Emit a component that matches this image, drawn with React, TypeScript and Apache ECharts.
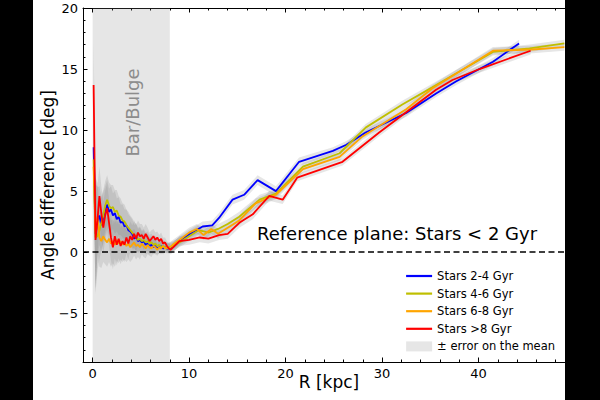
import React, { useEffect, useRef } from "react";
import * as echarts from "echarts";

const FONT = "DejaVu Sans";

// Radii of the inner (bar/bulge) profile samples, kpc
const innerR = [
  0.1, 0.3, 0.5, 0.7, 0.9, 1.1, 1.3, 1.5, 1.7, 1.9, 2.1, 2.3, 2.5, 2.7, 2.9, 3.1, 3.3, 3.5, 3.7, 3.9,
  4.1, 4.3, 4.5, 4.7, 4.9, 5.1, 5.3, 5.5, 5.7, 5.9, 6.1, 6.3, 6.5, 6.7, 6.9, 7.1, 7.3, 7.5, 7.7, 7.9,
];
// Error on the mean for the inner samples, deg
const innerErr = [
  3.5, 4.5, 2.8, 2.4, 2.2, 2.1, 2.0, 2.0, 1.9, 1.9, 1.8, 1.8, 1.7, 1.6, 1.5, 1.4, 1.4, 1.3, 1.3, 1.2,
  1.2, 1.1, 1.1, 1.0, 1.0, 0.9, 0.9, 0.8, 0.8, 0.7, 0.7, 0.6, 0.6, 0.5, 0.5, 0.5, 0.5, 0.4, 0.4, 0.4,
];

// Stars 2-4 Gyr
const blueInner = [
  8.6, 1.5, 2.5, 3.0, 2.2, 2.8, 3.4, 3.9, 3.3, 3.5, 3.0, 3.2, 2.7, 2.9, 2.4, 2.5, 2.1, 2.2, 1.8, 1.7,
  1.5, 1.1, 1.3, 0.9, 1.0, 0.8, 0.9, 0.6, 0.7, 0.5, 0.6, 0.4, 0.5, 0.3, 0.4, 0.5, 0.3, 0.4, 0.3, 0.3,
];
const blueOuterR = [8.3, 9.0, 10.1, 11.4, 12.4, 13.1, 14.5, 15.7, 17.1, 19.0, 21.4, 24.9, 26.3, 28.3, 32.5, 35.6, 37.7, 41.5, 44.2];
const blueOuter = [0.4, 0.9, 1.5, 2.1, 2.2, 2.8, 4.3, 4.7, 5.9, 5.0, 7.4, 8.3, 8.8, 9.8, 11.4, 13.0, 14.0, 15.6, 17.1];
const blueOuterErr = [0.4, 0.4, 0.4, 0.4, 0.4, 0.4, 0.4, 0.4, 0.4, 0.4, 0.35, 0.3, 0.3, 0.3, 0.3, 0.3, 0.3, 0.3, 0.3];

// Stars 4-6 Gyr
const oliveInner = [
  7.6, 1.2, 1.3, 1.8, 2.4, 3.0, 3.8, 4.3, 3.8, 3.6, 3.7, 3.3, 3.4, 3.0, 2.9, 2.6, 2.5, 2.2, 2.0, 1.8,
  1.6, 1.4, 1.2, 1.0, 1.1, 0.9, 1.0, 0.8, 0.9, 0.7, 0.8, 0.6, 0.7, 0.5, 0.6, 0.4, 0.5, 0.4, 0.3, 0.4,
];
const oliveOuterR = [8.3, 9.0, 10.0, 11.0, 12.0, 13.0, 14.0, 15.2, 17.3, 19.0, 21.8, 25.6, 28.3, 32.1, 35.2, 41.5, 45.3, 48.9];
const oliveOuter = [0.5, 0.8, 1.3, 1.8, 1.6, 1.9, 2.3, 2.9, 4.3, 4.8, 7.0, 8.1, 10.2, 12.1, 13.5, 16.4, 16.7, 17.1];
const oliveOuterErr = [0.4, 0.4, 0.4, 0.4, 0.4, 0.4, 0.4, 0.4, 0.4, 0.35, 0.3, 0.3, 0.3, 0.3, 0.3, 0.3, 0.3, 0.3];

// Stars 6-8 Gyr
const orangeInner = [
  7.0, 1.6, 2.9, 1.2, 0.9, 1.3, 1.0, 0.8, 1.1, 0.7, 0.9, 0.6, 1.0, 0.7, 0.9, 0.6, 0.8, 0.5, 0.7, 0.4,
  0.6, 0.8, 0.5, 0.6, 0.4, 0.7, 0.5, 0.3, 0.6, 0.4, 0.3, 0.5, 0.4, 0.2, 0.4, 0.3, 0.5, 0.3, 0.4, 0.3,
];
const orangeOuterR = [8.3, 9.0, 10.0, 10.8, 11.5, 12.3, 13.0, 14.0, 15.2, 16.9, 19.0, 21.8, 25.6, 28.0, 32.5, 35.2, 41.5, 45.6, 48.9];
const orangeOuter = [0.6, 1.0, 1.6, 1.9, 1.4, 1.9, 1.5, 2.0, 2.6, 4.0, 4.7, 6.8, 7.8, 9.5, 11.7, 13.4, 16.5, 16.6, 16.8];
const orangeOuterErr = [0.4, 0.4, 0.4, 0.4, 0.4, 0.4, 0.4, 0.4, 0.4, 0.4, 0.35, 0.3, 0.3, 0.3, 0.3, 0.3, 0.3, 0.3, 0.3];

// Stars >8 Gyr
const redInner = [
  13.7, 1.0, 2.6, 4.6, 3.2, 2.0, 3.0, 3.6, 2.4, 1.2, 0.4, 1.3, 0.6, 1.1, 0.5, 0.9, 0.6, 1.2, 0.7, 1.3,
  1.0, 1.5, 1.1, 1.6, 1.3, 1.4, 1.1, 1.5, 1.2, 0.9, 1.1, 1.3, 1.0, 1.2, 0.9, 1.1, 0.7, 0.8, 0.5, 0.3,
];
const redOuterR = [8.1, 9.0, 10.0, 11.1, 12.0, 13.1, 14.0, 15.2, 16.6, 18.3, 19.7, 21.2, 25.9, 29.7, 35.6, 37.3, 40.1, 45.4];
const redOuter = [0.2, 0.9, 1.0, 1.2, 1.1, 1.4, 1.5, 2.4, 3.1, 4.6, 4.3, 6.1, 7.4, 9.8, 13.3, 14.1, 15.0, 16.5];
const redOuterErr = [0.4, 0.4, 0.4, 0.4, 0.4, 0.4, 0.4, 0.4, 0.4, 0.4, 0.35, 0.3, 0.3, 0.3, 0.3, 0.3, 0.3, 0.3];

const binNames = ["Stars 2-4 Gyr", "Stars 4-6 Gyr", "Stars 6-8 Gyr", "Stars >8 Gyr"];
const binColors = ["#0000ff", "#bfbf00", "#ffa500", "#ff0000"];
const errName = "\u00b1 error on the mean";

const xMajor = [0, 10, 20, 30, 40, 50];
const xLabels = [0, 10, 20, 30, 40];
const xMinor = [0, 2, 4, 6, 8, 10, 12, 14, 16, 18, 20, 22, 24, 26, 28, 30, 32, 34, 36, 38, 40, 42, 44, 46, 48, 50];
const yMajor = [-5, 0, 5, 10, 15, 20];
const yMinor = [-9, -8, -7, -6, -5, -4, -3, -2, -1, 0, 1, 2, 3, 4, 5, 6, 7, 8, 9, 10, 11, 12, 13, 14, 15, 16, 17, 18, 19, 20];

type Bin = { name: string; color: string; r: number[]; v: number[]; e: number[] };

const bins: Bin[] = [
  { name: binNames[0], color: binColors[0], r: innerR.concat(blueOuterR), v: blueInner.concat(blueOuter), e: innerErr.concat(blueOuterErr) },
  { name: binNames[1], color: binColors[1], r: innerR.concat(oliveOuterR), v: oliveInner.concat(oliveOuter), e: innerErr.concat(oliveOuterErr) },
  { name: binNames[2], color: binColors[2], r: innerR.concat(orangeOuterR), v: orangeInner.concat(orangeOuter), e: innerErr.concat(orangeOuterErr) },
  { name: binNames[3], color: binColors[3], r: innerR.concat(redOuterR), v: redInner.concat(redOuter), e: innerErr.concat(redOuterErr) },
];

const BAND = "rgba(128,128,128,0.2)";

function xAxisDef(position: "top" | "bottom", major: boolean, extra: any = {}) {
  return {
    type: "value",
    gridIndex: 0,
    position,
    min: -1,
    max: 50,
    axisLine: { show: major, onZero: false, lineStyle: { color: "#000", width: 1 } },
    axisTick: { show: true, inside: true, length: major ? 4.5 : 2.5, lineStyle: { color: "#000", width: 1 }, customValues: major ? xMajor : xMinor },
    axisLabel: { show: false },
    splitLine: { show: false },
    ...extra,
  };
}

function yAxisDef(major: boolean, extra: any = {}) {
  return {
    type: "value",
    gridIndex: 0,
    position: "left",
    min: -9,
    max: 20,
    axisLine: { show: major, onZero: false, lineStyle: { color: "#000", width: 1 } },
    axisTick: { show: true, inside: true, length: major ? 4.5 : 2.5, lineStyle: { color: "#000", width: 1 }, customValues: major ? yMajor : yMinor },
    axisLabel: { show: false },
    splitLine: { show: false },
    ...extra,
  };
}

export default function App() {
  const ref = useRef<HTMLDivElement>(null);

  useEffect(() => {
    const chart = echarts.init(ref.current!, null, { renderer: "svg" });

    const lineSeries = bins.map((b) => ({
      name: b.name,
      type: "line",
      xAxisIndex: 0,
      yAxisIndex: 0,
      data: b.r.map((x, i) => [x, b.v[i]]),
      symbol: "none",
      showSymbol: false,
      lineStyle: { color: b.color, width: 1.8 },
      itemStyle: { color: b.color },
      z: 10,
      silent: true,
    }));

    const option: any = {
      animation: false,
      backgroundColor: "#fff",
      grid: { left: 83, top: 8, width: 492, height: 354, containLabel: false, outerBoundsMode: "none" },
      xAxis: [
        xAxisDef("bottom", true, {
          axisLabel: { show: true, customValues: xLabels, margin: 5, fontFamily: FONT, fontSize: 13, color: "#000" },
          name: "R [kpc]",
          nameLocation: "middle",
          nameGap: 11,
          nameMoveOverlap: false,
          nameTextStyle: { fontFamily: FONT, fontSize: 17, color: "#000", verticalAlign: "top" },
        }),
        xAxisDef("bottom", false),
        xAxisDef("top", true),
        xAxisDef("top", false),
      ],
      yAxis: [
        yAxisDef(true, {
          axisLabel: {
            show: true,
            customValues: yMajor,
            margin: 5,
            fontFamily: FONT,
            fontSize: 13,
            color: "#000",
            formatter: (v: number) => (v < 0 ? "\u2212" + Math.abs(v) : String(v)),
          },
          name: "Angle difference [deg]",
          nameLocation: "middle",
          nameGap: 27,
          nameMoveOverlap: false,
          nameTextStyle: { fontFamily: FONT, fontSize: 17, color: "#000" },
        }),
        yAxisDef(false),
      ],
      legend: {
        orient: "vertical",
        left: 400,
        top: 265,
        itemWidth: 26,
        itemHeight: 10,
        itemGap: 5.6,
        selectedMode: false,
        textStyle: { fontFamily: FONT, fontSize: 11.5, color: "#000" },
        data: [
          ...binNames.map((n) => ({ name: n, itemStyle: { opacity: 0 }, lineStyle: { width: 2.2 } })),
          { name: errName, icon: "rect" },
        ],
      },
      series: [
        {
          // Bar/Bulge region
          type: "line",
          data: [],
          silent: true,
          z: 1,
          markArea: {
            silent: true,
            itemStyle: { color: BAND },
            data: [[{ xAxis: 0 }, { xAxis: 8 }]],
          },
        },
        {
          name: errName,
          type: "custom",
          xAxisIndex: 0,
          yAxisIndex: 0,
          z: 2,
          silent: true,
          itemStyle: { color: BAND },
          data: bins.map((_, i) => [i, 0]),
          encode: { x: 0, y: 1 },
          renderItem: (params: any, api: any) => {
            const b = bins[params.dataIndex];
            const up = b.r.map((x, i) => api.coord([x, b.v[i] + b.e[i]]));
            const lo = b.r.map((x, i) => api.coord([x, b.v[i] - b.e[i]])).reverse();
            return {
              type: "polygon",
              shape: { points: up.concat(lo) },
              style: { fill: BAND, stroke: "none" },
            };
          },
        },
        {
          // zero reference line
          type: "line",
          data: [],
          silent: true,
          z: 3,
          markLine: {
            silent: true,
            symbol: "none",
            label: { show: false },
            lineStyle: { color: "#000", type: [6, 3.5], width: 1.6 },
            data: [{ yAxis: 0 }],
          },
        },
        ...lineSeries,
      ],
      graphic: [
        {
          type: "text",
          z: 50,
          x: 132.5,
          y: 112.5,
          rotation: Math.PI / 2,
          style: { text: "Bar/Bulge", fontFamily: FONT, fontSize: 18, fill: "#8c8c8c", align: "center", verticalAlign: "middle" },
        },
        {
          type: "text",
          z: 50,
          x: 257,
          y: 233.5,
          style: { text: "Reference plane: Stars < 2 Gyr", fontFamily: FONT, fontSize: 18, fill: "#000", align: "left", verticalAlign: "middle" },
        },
        { type: "rect", z: 100, shape: { x: 0, y: 0, width: 33, height: 400 }, style: { fill: "#000" } },
        { type: "rect", z: 100, shape: { x: 565, y: 0, width: 35, height: 400 }, style: { fill: "#000" } },
      ],
    };

    chart.setOption(option);
    return () => chart.dispose();
  }, []);

  return (
    <div
      ref={ref}
      style={{ position: "fixed", left: 0, top: 0, width: 600, height: 400, background: "#fff" }}
    />
  );
}
